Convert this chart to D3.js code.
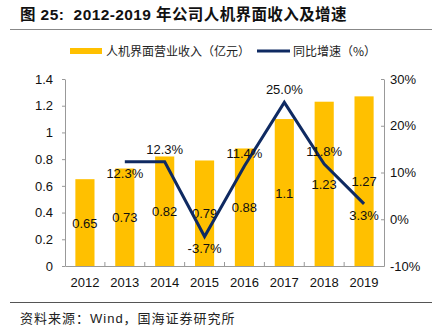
<!DOCTYPE html>
<html>
<head>
<meta charset="utf-8">
<script src="https://cdn.jsdelivr.net/npm/d3@7"></script>
<style>
  html, body { margin: 0; padding: 0; background: #fff; }
  svg { display: block; }
</style>
</head>
<body>
<svg id="chart" width="439" height="336"></svg>
<script>
// Revenue (亿元) and year-over-year growth (%)
const years = ["2012", "2013", "2014", "2015", "2016", "2017", "2018", "2019"];
const revenue = [0.65, 0.73, 0.82, 0.79, 0.88, 1.1, 1.23, 1.27];
const growth = [null, 12.3, 12.3, -3.7, 11.4, 25.0, 11.8, 3.3];
const leftTicks = [0, 0.2, 0.4, 0.6, 0.8, 1, 1.2, 1.4];
const rightTicks = [-10, 0, 10, 20, 30];
// growth label placement: above (-1) or below (+1) the point
const growthLabelSide = [0, 1, -1, 1, -1, -1, -1, 1];

const BAR = "#FFC000";
const LINE = "#0F2A62";
const FONT = "'Liberation Sans', Arial, sans-serif";
const CJK = "'Noto Sans CJK SC', sans-serif";
const MIXED = "'Liberation Sans', 'Noto Sans CJK SC', sans-serif";

const svg = d3.select("#chart");
const m = { left: 65, right: 384, top: 79, bottom: 266 };

const x = d3.scaleBand().domain(years).range([m.left, m.right]).paddingInner(0.52).paddingOuter(0.26);
const xc = d => x(d) + x.bandwidth() / 2;
const yL = d3.scaleLinear().domain([0, 1.4]).range([m.bottom, m.top]);
const yR = d3.scaleLinear().domain([-10, 30]).range([m.bottom, m.top]);

// Title
svg.append("text").attr("x", 20).attr("y", 20).attr("xml:space", "preserve")
  .style("white-space", "pre").attr("letter-spacing", 0.4)
  .attr("font-family", MIXED).attr("font-weight", "bold").attr("font-size", 15.5)
  .attr("fill", "#111").text("图 25:  2012-2019 年公司人机界面收入及增速");
svg.append("line").attr("x1", 10).attr("x2", 432).attr("y1", 29.5).attr("y2", 29.5)
  .attr("stroke", "#888").attr("stroke-width", 1);

// Legend
const lg = svg.append("g").attr("font-family", CJK).attr("font-size", 12).attr("fill", "#222");
lg.append("rect").attr("x", 70).attr("y", 48).attr("width", 32).attr("height", 6).attr("fill", BAR);
lg.append("text").attr("x", 106).attr("y", 55.5).text("人机界面营业收入（亿元）");
lg.append("line").attr("x1", 257).attr("x2", 290).attr("y1", 51).attr("y2", 51)
  .attr("stroke", LINE).attr("stroke-width", 3);
lg.append("text").attr("x", 293).attr("y", 55.5).text("同比增速（%）");

// Bars
svg.append("g").selectAll("rect").data(years).join("rect")
  .attr("x", d => x(d)).attr("width", x.bandwidth())
  .attr("y", (d, i) => yL(revenue[i]))
  .attr("height", (d, i) => yL(0) - yL(revenue[i]))
  .attr("fill", BAR);

// Axes
const axisStyle = g => {
  g.selectAll("path, line").attr("stroke", "#999");
  g.selectAll("text").attr("font-family", FONT).attr("font-size", 13).attr("fill", "#111");
};
svg.append("g").attr("transform", `translate(${m.left},0)`)
  .call(d3.axisLeft(yL).tickValues(leftTicks).tickSize(3).tickSizeOuter(0).tickPadding(9)
    .tickFormat(d3.format("~g")))
  .call(axisStyle);
svg.append("g").attr("transform", `translate(${m.right},0)`)
  .call(d3.axisRight(yR).tickValues(rightTicks).tickSize(-3).tickSizeOuter(0).tickPadding(6)
    .tickFormat(d => d + "%"))
  .call(axisStyle);
const xAxis = svg.append("g").attr("transform", `translate(0,${m.bottom})`)
  .call(d3.axisBottom(x).tickSize(0).tickSizeOuter(0).tickPadding(12))
  .call(axisStyle);
// category separators on the baseline
const step = x.step();
xAxis.selectAll("line.sep").data(d3.range(1, years.length)).join("line")
  .attr("class", "sep")
  .attr("x1", i => x(years[i]) - (step - x.bandwidth()) / 2)
  .attr("x2", i => x(years[i]) - (step - x.bandwidth()) / 2)
  .attr("y1", 0).attr("y2", -4).attr("stroke", "#999");

// Bar value labels
svg.append("g").selectAll("text").data(years).join("text")
  .attr("x", d => xc(d))
  .attr("y", (d, i) => (yL(revenue[i]) + yL(0)) / 2 + 5)
  .attr("text-anchor", "middle").attr("font-family", FONT).attr("font-size", 13).attr("fill", "#111")
  .text((d, i) => revenue[i]);

// Growth line
const pts = years.map((d, i) => ({ year: d, v: growth[i], side: growthLabelSide[i] })).filter(p => p.v !== null);
svg.append("path").datum(pts)
  .attr("fill", "none").attr("stroke", LINE).attr("stroke-width", 3).attr("stroke-linejoin", "miter")
  .attr("d", d3.line().x(p => xc(p.year)).y(p => yR(p.v)));

svg.append("g").selectAll("text").data(pts).join("text")
  .attr("x", p => xc(p.year))
  .attr("y", p => yR(p.v) + (p.side > 0 ? 16 : -8))
  .attr("text-anchor", "middle").attr("font-family", FONT).attr("font-size", 13).attr("fill", "#111")
  .text(p => p.v.toFixed(1) + "%");

// Source note
svg.append("line").attr("x1", 10).attr("x2", 432).attr("y1", 302.5).attr("y2", 302.5)
  .attr("stroke", "#555").attr("stroke-width", 1);
svg.append("text").attr("x", 20).attr("y", 323).attr("letter-spacing", 1)
  .attr("font-family", MIXED).attr("font-size", 13).attr("fill", "#222")
  .text("资料来源：Wind，国海证券研究所");
</script>
</body>
</html>
